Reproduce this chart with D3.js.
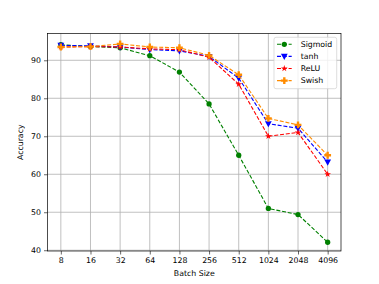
<!DOCTYPE html>
<html>
<head>
<meta charset="utf-8">
<script src="https://cdn.jsdelivr.net/npm/d3@7"></script>
<style>
  body { margin: 0; background: #fff; }
  text { font-family: "DejaVu Sans", sans-serif; }
</style>
</head>
<body>
<svg id="chart" width="379" height="284"></svg>
<script>
// --- DATA ---
const batchSizes = ["8", "16", "32", "64", "128", "256", "512", "1024", "2048", "4096"];
const sigmoidAcc = [94.1, 93.6, 93.3, 91.2, 86.9, 78.5, 65.0, 51.0, 49.4, 42.1];
const tanhAcc    = [93.9, 93.8, 93.5, 92.8, 92.5, 91.0, 85.3, 73.3, 72.1, 63.2];
const reluAcc    = [93.5, 93.6, 93.5, 93.0, 92.8, 90.8, 83.7, 70.0, 71.0, 60.0];
const swishAcc   = [93.5, 93.6, 94.3, 93.5, 93.3, 91.3, 86.2, 74.7, 73.0, 65.0];
const yTicks = [40, 50, 60, 70, 80, 90];

const series = [
  { name: "Sigmoid", values: sigmoidAcc, color: "green", marker: "circle" },
  { name: "tanh", values: tanhAcc, color: "blue", marker: "tri" },
  { name: "ReLU", values: reluAcc, color: "red", marker: "star" },
  { name: "Swish", values: swishAcc, color: "darkorange", marker: "plus" }
];

const fontSize = 7.8;

// --- LAYOUT ---
const svg = d3.select("#chart");
const plot = { left: 47.5, top: 33.5, right: 341, bottom: 251 };

const x = d3.scalePoint().domain(batchSizes)
  .range([plot.left, plot.right]).padding(0.45);
const y = d3.scaleLinear().domain([39.8, 97.05]).range([plot.bottom, plot.top]);

// Grid
const grid = svg.append("g");
grid.selectAll(".gx").data(batchSizes).enter().append("line")
  .attr("x1", d => x(d)).attr("x2", d => x(d))
  .attr("y1", plot.top).attr("y2", plot.bottom)
  .attr("stroke", "#b0b0b0").attr("stroke-width", 0.8);
grid.selectAll(".gy").data(yTicks).enter().append("line")
  .attr("x1", plot.left).attr("x2", plot.right)
  .attr("y1", d => y(d)).attr("y2", d => y(d))
  .attr("stroke", "#b0b0b0").attr("stroke-width", 0.8);

// Axes
const xAxis = svg.append("g")
  .attr("transform", `translate(0,${plot.bottom})`)
  .call(d3.axisBottom(x).tickSizeOuter(0).tickSize(3.5).tickPadding(3));
const yAxis = svg.append("g")
  .attr("transform", `translate(${plot.left},0)`)
  .call(d3.axisLeft(y).tickValues(yTicks).tickSizeOuter(0).tickSize(3.5).tickPadding(3));
[xAxis, yAxis].forEach(a => {
  a.select(".domain").remove();
  a.selectAll("text").attr("font-size", fontSize).attr("fill", "#000")
    .style("font-family", "'DejaVu Sans', sans-serif");
  a.selectAll(".tick line").attr("stroke", "#000").attr("stroke-width", 0.6);
});

// Frame
svg.append("rect")
  .attr("x", plot.left).attr("y", plot.top)
  .attr("width", plot.right - plot.left).attr("height", plot.bottom - plot.top)
  .attr("fill", "none").attr("stroke", "#000").attr("stroke-width", 0.7);

// Axis labels
svg.append("text").attr("x", (plot.left + plot.right) / 2).attr("y", 275.5)
  .attr("text-anchor", "middle").attr("font-size", fontSize).text("Batch Size");
svg.append("text")
  .attr("transform", `translate(22.5,${(plot.top + plot.bottom) / 2}) rotate(-90)`)
  .attr("text-anchor", "middle").attr("font-size", fontSize).text("Accuracy");

// Markers
function markerPath(kind) {
  if (kind === "circle") return d3.symbol().type(d3.symbolCircle).size(22)();
  if (kind === "tri") return "M-3.4,-2.6L3.4,-2.6L0,3.6Z";
  if (kind === "star") return d3.symbol().type(d3.symbolStar).size(14)();
  // filled plus
  const a = 1.2, b = 3.4;
  return `M${-a},${-b}H${a}V${-a}H${b}V${a}H${a}V${b}H${-a}V${a}H${-b}V${-a}H${-a}Z`;
}

const line = d3.line().x((d, i) => x(batchSizes[i])).y(d => y(d));

series.forEach(s => {
  const g = svg.append("g");
  g.append("path").datum(s.values)
    .attr("d", line).attr("fill", "none")
    .attr("stroke", s.color).attr("stroke-width", 1.1)
    .attr("stroke-dasharray", "4,1.8");
  g.selectAll("path.m").data(s.values).enter().append("path")
    .attr("class", "m")
    .attr("transform", (d, i) => `translate(${x(batchSizes[i])},${y(d)})`)
    .attr("d", markerPath(s.marker))
    .attr("fill", s.color);
});

// Legend
const legend = svg.append("g");
legend.append("rect")
  .attr("x", 274).attr("y", 37.3).attr("width", 62.7).attr("height", 51.4)
  .attr("rx", 2).attr("fill", "#fff").attr("fill-opacity", 0.8)
  .attr("stroke", "#d0d0d0").attr("stroke-width", 0.7);
series.forEach((s, i) => {
  const ly = 44.3 + i * 12.1;
  legend.append("line")
    .attr("x1", 277).attr("x2", 291.7).attr("y1", ly).attr("y2", ly)
    .attr("stroke", s.color).attr("stroke-width", 1.1)
    .attr("stroke-dasharray", "4,1.8");
  legend.append("path")
    .attr("transform", `translate(284.3,${ly})`)
    .attr("d", markerPath(s.marker)).attr("fill", s.color);
  legend.append("text").attr("x", 300.7).attr("y", ly + 2.8)
    .attr("font-size", fontSize).text(s.name);
});
</script>
</body>
</html>
